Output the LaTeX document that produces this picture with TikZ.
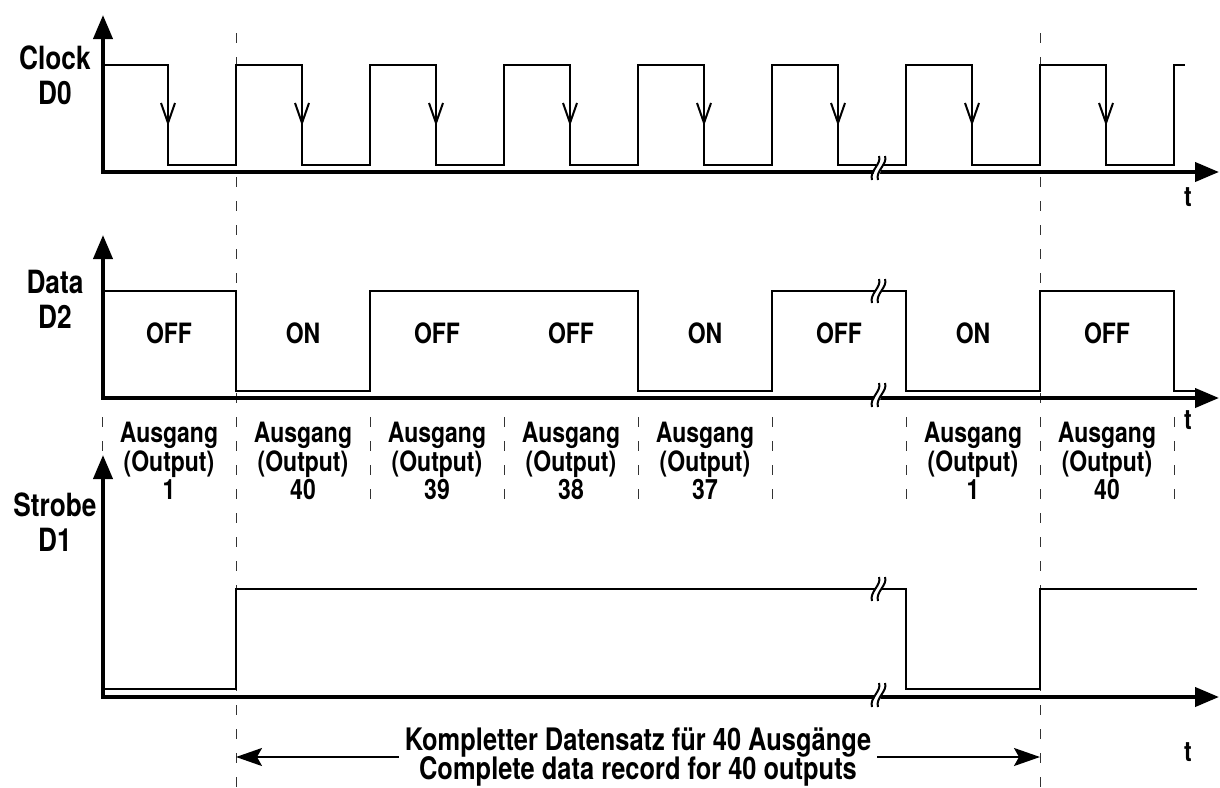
\documentclass[tikz,border=0pt]{standalone}
\usepackage{fontspec}
\setmainfont{TeX Gyre Heros}[FakeStretch=0.82]
\usetikzlibrary{arrows.meta,positioning}

\newcommand{\tightlines}{\setlength{\lineskiplimit}{-30pt}\setlength{\lineskip}{0pt}}

\tikzset{
  sig/.style={line width=2pt},
  axis/.style={line width=4pt, -{Triangle[length=24pt,width=19pt]}},
  gridline/.style={black!80, line width=1pt, dash pattern=on 10pt off 14pt},
  lbl/.style={font={\fontsize{28pt}{28.5pt}\selectfont\bfseries\tightlines}, align=center, inner sep=0pt},
  big/.style={font={\fontsize{31pt}{29pt}\selectfont\bfseries\tightlines}, align=center, inner sep=0pt},
  chan/.style={font={\fontsize{32pt}{35pt}\selectfont\bfseries}, align=center, inner sep=0pt},
  brk/.style={line width=2pt},
  dim/.style={line width=2pt, -{Stealth[length=26pt,width=18pt,inset=5pt]}},
}

% break mark on a line
\newcommand{\sigbreak}[2]{%
  \begin{scope}[shift={(#1,#2)}]
    \fill[white] (3,-12) -- (9,-12) -- (2,12) -- (-4,12) -- cycle;
    \draw[brk] (3,-12) .. controls (6,-4) and (-7,3) .. (-4,12);
    \draw[brk] (9,-12) .. controls (12,-4) and (-1,3) .. (2,12);
  \end{scope}}

\begin{document}
\begin{tikzpicture}[x=1pt, y=-1pt]
    \useasboundingbox (0,0) rectangle (1220,787);

    % grid lines
    \draw[gridline] (236,33) -- (236,787);
    \draw[gridline] (1040,33) -- (1040,787);
    \foreach \x in {102,370,504,638,772,906,1174}
        \draw[gridline] (\x,417) -- (\x,500);

    % channel labels
    \node[chan] (clk) at (55,75) {Clock\\D0};
    \node[chan] (dat) at (55,299) {Data\\D2};
    \node[chan] (stb) at (55,522) {Strobe\\D1};

    % clock
    \draw[sig] (103,65) -| (168,165) -| (236,65) -| (302,165) -| (370,65)
        -| (436,165) -| (504,65) -| (570,165) -| (638,65) -| (704,165)
        -| (772,65) -| (838,165) -| (906,65) -| (972,165) -| (1040,65)
        -| (1106,165) -| (1174,65) -- (1185,65);
    \foreach \x in {168,302,...,1106}
        \draw[sig] (\x-7,103) -- (\x,123) -- (\x+7,103);
    \draw[axis] (103,172) -- (103,15);
    \draw[axis] (101,172) -- (1219,172);
    \sigbreak{876}{168}
    \node[lbl] (t1) at (1188,197) {t};

    % data
    \draw[sig] (103,291) -| (236,391) -| (370,291) -| (638,391) -| (772,291)
        -| (906,391) -| (1040,291) -| (1174,391) -- (1197,391);
    \draw[axis] (103,398) -- (103,235);
    \draw[axis] (101,398) -- (1219,398);
    \sigbreak{876}{291}
    \sigbreak{876}{395}
    \node[lbl] (t2) at (1188,420) {t};

    \node[lbl] (d1) at (169,333) {OFF};
    \node[lbl] (d2) at (303,333) {ON};
    \node[lbl] (d3) at (437,333) {OFF};
    \node[lbl] (d4) at (571,333) {OFF};
    \node[lbl] (d5) at (705,333) {ON};
    \node[lbl] (d6) at (839,333) {OFF};
    \node[lbl] (d7) at (973,333) {ON};
    \node[lbl] (d8) at (1107,333) {OFF};

    \node[lbl] (o1) at (169,461) {Ausgang\\(Output)\\1};
    \node[lbl] (o2) at (303,461) {Ausgang\\(Output)\\40};
    \node[lbl] (o3) at (437,461) {Ausgang\\(Output)\\39};
    \node[lbl] (o4) at (571,461) {Ausgang\\(Output)\\38};
    \node[lbl] (o5) at (705,461) {Ausgang\\(Output)\\37};
    \node[lbl] (o7) at (973,461) {Ausgang\\(Output)\\1};
    \node[lbl] (o8) at (1107,461) {Ausgang\\(Output)\\40};

    % strobe
    \draw[sig] (103,689) -| (236,589) -| (906,689) -| (1040,589) -- (1197,589);
    \draw[axis] (103,697) -- (103,455);
    \draw[axis] (101,697) -- (1219,697);
    \sigbreak{876}{589}
    \sigbreak{876}{695}
    \node[lbl] (t3) at (1188,752) {t};

    % record span
    \node[big, inner xsep=6pt] (rec) at (638,757) {Kompletter Datensatz für 40 Ausgänge\\Complete data record for 40 outputs};
    \coordinate (recL) at (236,757);
    \coordinate (recR) at (1040,757);
    \draw[dim] (rec.west) -- (recL);
    \draw[dim] (rec.east) -- (recR);
\end{tikzpicture}
\end{document}
